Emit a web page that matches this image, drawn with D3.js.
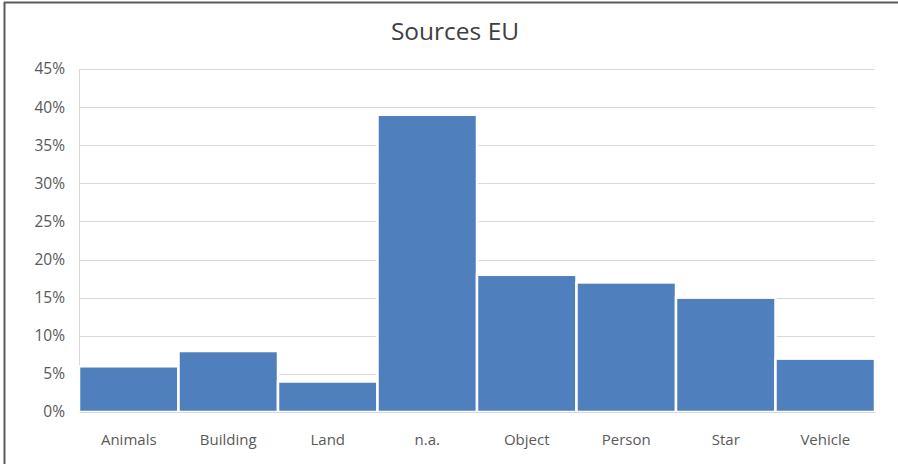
<!DOCTYPE html>
<html>
<head>
<meta charset="utf-8">
<script src="https://cdn.jsdelivr.net/npm/d3@7"></script>
<style>
body { margin: 0; background: #fff; }
svg { display: block; font-family: "Open Sans", sans-serif; }
</style>
</head>
<body>
<svg id="chart"></svg>
<script>
var categories = ["Animals", "Building", "Land", "n.a.", "Object", "Person", "Star", "Vehicle"]
var shares = [0.06, 0.08, 0.04, 0.39, 0.18, 0.17, 0.15, 0.07]
var yTicks = [0, 0.05, 0.10, 0.15, 0.20, 0.25, 0.30, 0.35, 0.40, 0.45]

const W = 898, H = 464
const M = {top: 69, right: 23, bottom: 52, left: 79}
const CW = W - M.left - M.right
const CH = H - M.top - M.bottom
const FONT = "'Open Sans', sans-serif"

const svg = d3.select("#chart").attr("width", W).attr("height", H)

// frame (only top and left show in the cropped picture)
svg.append("line").attr("x1", 4).attr("x2", W).attr("y1", 2.5).attr("y2", 2.5)
  .attr("stroke", "#5a5a5a").attr("stroke-width", 2)
svg.append("line").attr("x1", 4.5).attr("x2", 4.5).attr("y1", 2).attr("y2", H)
  .attr("stroke", "#5a5a5a").attr("stroke-width", 2)

const x = d3.scaleBand().domain(categories).range([0, CW]).padding(0)
const y = d3.scaleLinear().domain([0, 0.45]).range([CH, 0])

const g = svg.append("g").attr("transform", `translate(${M.left},${M.top})`)

// gridlines
g.append("g").selectAll("line").data(yTicks.slice(1)).enter().append("line")
  .attr("x1", 0).attr("x2", CW)
  .attr("y1", d => Math.round(y(d)) + 0.5).attr("y2", d => Math.round(y(d)) + 0.5)
  .attr("stroke", "#d9d9d9").attr("stroke-width", 1.2)

// y axis
const yAxis = g.append("g")
  .call(d3.axisLeft(y).tickValues(yTicks).tickFormat(d3.format(".0%")).tickSize(0).tickPadding(14))
  .attr("font-family", FONT)
yAxis.select(".domain").attr("stroke", "#d9d9d9")
yAxis.selectAll("text").attr("fill", "#595959").attr("font-size", 15.5)

// bars
g.selectAll(".bar").data(shares).enter().append("rect")
  .classed("bar", true)
  .attr("x", (d, i) => x(categories[i]))
  .attr("y", d => y(d))
  .attr("width", x.bandwidth())
  .attr("height", d => CH - y(d))
  .attr("fill", "#4f7fbd")
  .attr("stroke", "#fff").attr("stroke-width", 2.5)

// x axis
const xAxis = g.append("g").attr("transform", `translate(0,${CH})`)
  .call(d3.axisBottom(x).tickSize(0).tickPadding(22))
  .attr("font-family", FONT)
xAxis.select(".domain").attr("stroke", "#d9d9d9")
xAxis.selectAll("text").attr("fill", "#595959").attr("font-size", 15)

// title
svg.append("text").text("Sources EU")
  .attr("x", 455).attr("y", 40)
  .attr("text-anchor", "middle")
  .attr("font-size", 24.5)
  .attr("fill", "#404040")
</script>
</body>
</html>
